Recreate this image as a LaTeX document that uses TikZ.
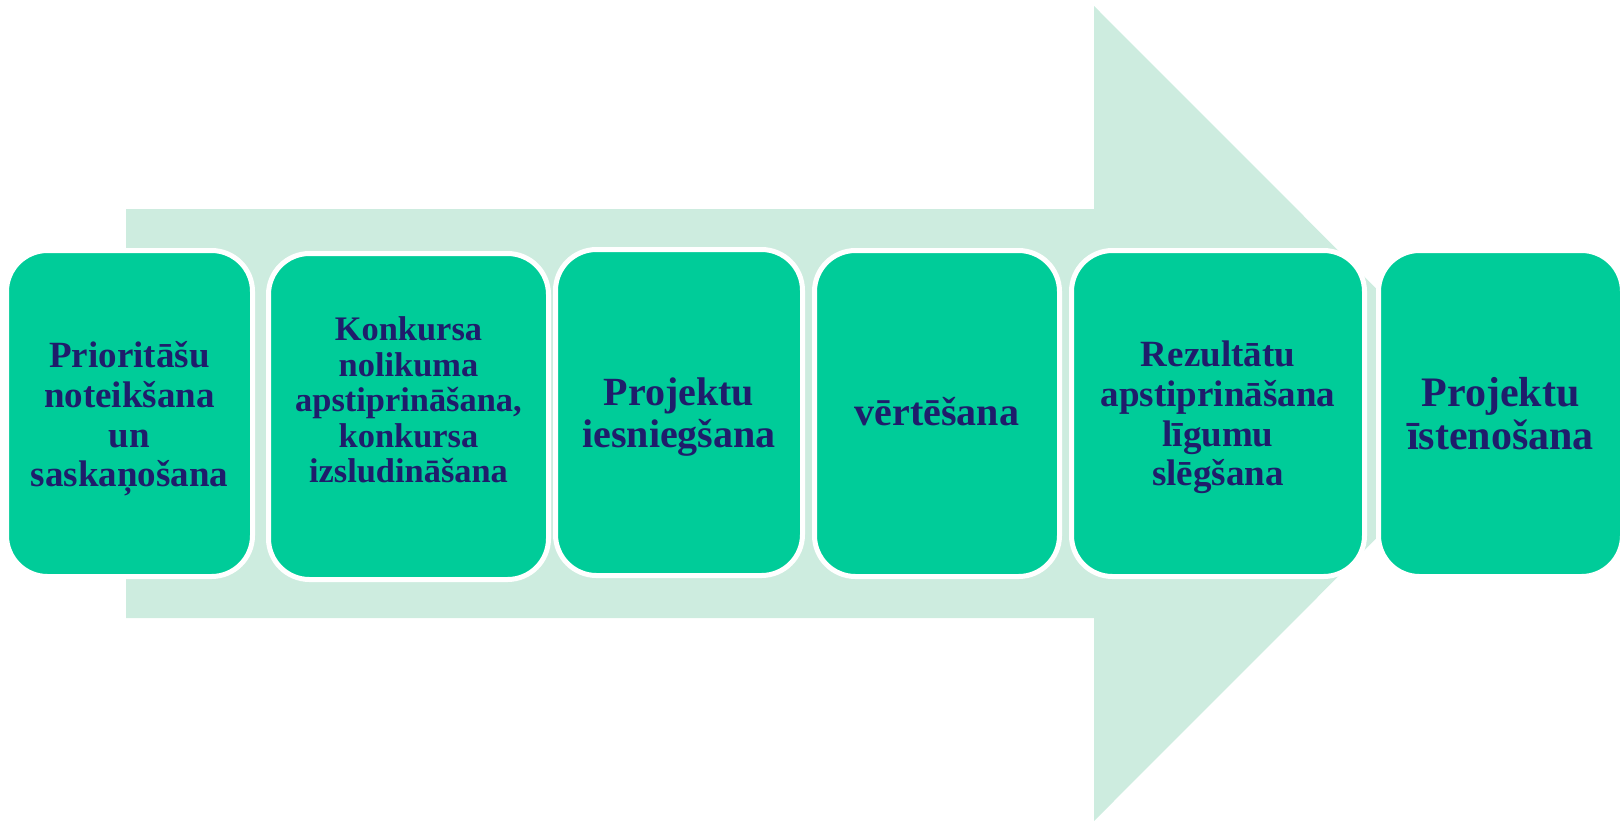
\documentclass[tikz,border=0pt]{standalone}
\usepackage{fontspec}
\setmainfont{Liberation Serif}
\definecolor{arrowbg}{RGB}{205,236,223}
\definecolor{boxgreen}{RGB}{0,204,153}
\definecolor{navytext}{RGB}{31,29,107}
\tikzset{
  stepbox/.style={draw=white, line width=5pt, fill=boxgreen, rounded corners=41pt,
    inner sep=0pt, anchor=center},
  steptext/.style={text=navytext, align=center, inner sep=0pt, anchor=center},
}
\newcommand{\fsz}[2]{\fontsize{#1}{#2}\selectfont\bfseries}
\begin{document}
\begin{tikzpicture}[x=1pt,y=-1pt]
\useasboundingbox (0,0) rectangle (1623,820);
% big background arrow
\fill[arrowbg] (126,209) -- (1094,209) -- (1094,6) -- (1501,413.5) -- (1094,821) -- (1094,618) -- (126,618) -- cycle;
% boxes
\node[stepbox, minimum width=246pt, minimum height=326pt] (b1) at (129.5,413.5) {};
\node[stepbox, minimum width=280pt, minimum height=326pt] (b2) at (408.5,416.5) {};
\node[stepbox, minimum width=247pt, minimum height=326pt] (b3) at (679,412.5) {};
\node[stepbox, minimum width=245pt, minimum height=326pt] (b4) at (937,413.5) {};
\node[stepbox, minimum width=293pt, minimum height=326pt] (b5) at (1218,413.5) {};
\node[stepbox, minimum width=244pt, minimum height=326pt] (b6) at (1500.5,413.5) {};
% texts
\node[steptext, font=\fsz{37}{39.6}] (t1) at (129.5,419) {Prioritāšu\\noteikšana\\un\\saskaņošana};
\node[steptext, font=\fsz{34.4}{35.6}] (t2) at (408.5,400) {Konkursa\\nolikuma\\apstiprināšana,\\konkursa\\izsludināšana};
\node[steptext, font=\fsz{40}{42}] (t3) at (679,417) {Projektu\\iesniegšana};
\node[steptext, font=\fsz{40}{41.4}] (t4) at (937,412) {vērtēšana};
\node[steptext, font=\fsz{37}{39.6}] (t5) at (1218,417.5) {Rezultātu\\apstiprināšana\\līgumu\\slēgšana};
\node[steptext, font=\fsz{42}{43.5}] (t6) at (1500.5,413.5) {Projektu\\īstenošana};
\end{tikzpicture}
\end{document}
